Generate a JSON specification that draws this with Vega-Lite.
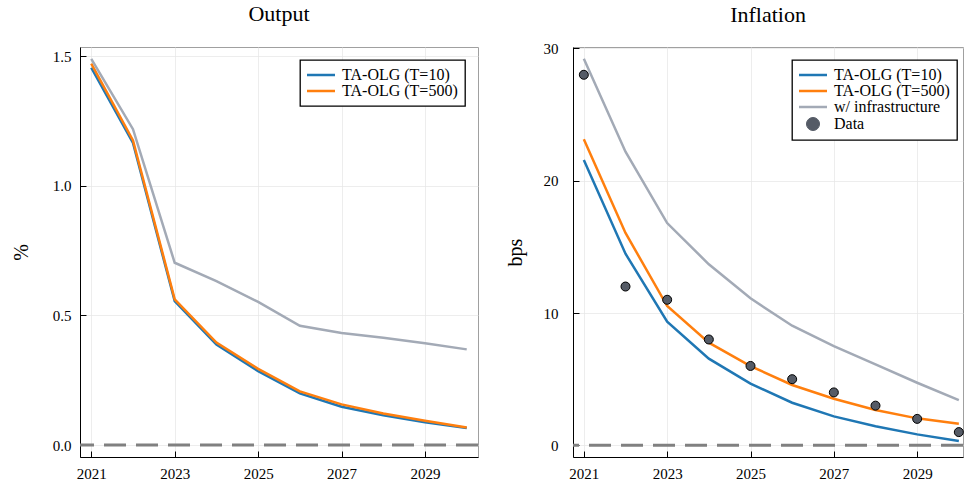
{
  "$schema": "https://vega.github.io/schema/vega-lite/v6.json",
  "padding": {"left": 10, "top": 2, "right": 0, "bottom": 5},
  "background": "white",
  "spacing": 24,
  "config": {
    "font": "Liberation Serif",
    "view": {"stroke": "#a0a0a0", "strokeWidth": 1},
    "axis": {
      "domainColor": "black", "domainWidth": 1, "tickColor": "black", "tickSize": -6,
      "labelPadding": 15, "labelFont": "Liberation Serif", "labelFontSize": 15, "labelColor": "black",
      "titleFont": "Liberation Serif", "titleFontSize": 20, "titleFontWeight": "normal", "titleColor": "black",
      "gridColor": "#e6e6e6", "gridOpacity": 0.7
    },
    "title": {"font": "Liberation Serif", "fontSize": 22, "fontWeight": "normal", "color": "black"},
    "legend": {
      "labelFont": "Liberation Serif", "labelFontSize": 16, "labelColor": "black",
      "strokeColor": "black", "strokeWidth": 1.3, "fillColor": "white", "padding": 7, "rowPadding": 0,
      "symbolSize": 100, "symbolStrokeWidth": 2.5, "symbolType": "stroke", "symbolOffset": 6, "labelOffset": 13
    }
  },
  "datasets": {
    "output": [
      {"year": 2021, "value": 1.455, "series": "TA-OLG (T=10)"},
      {"year": 2022, "value": 1.165, "series": "TA-OLG (T=10)"},
      {"year": 2023, "value": 0.555, "series": "TA-OLG (T=10)"},
      {"year": 2024, "value": 0.388, "series": "TA-OLG (T=10)"},
      {"year": 2025, "value": 0.285, "series": "TA-OLG (T=10)"},
      {"year": 2026, "value": 0.199, "series": "TA-OLG (T=10)"},
      {"year": 2027, "value": 0.148, "series": "TA-OLG (T=10)"},
      {"year": 2028, "value": 0.115, "series": "TA-OLG (T=10)"},
      {"year": 2029, "value": 0.088, "series": "TA-OLG (T=10)"},
      {"year": 2030, "value": 0.066, "series": "TA-OLG (T=10)"},
      {"year": 2021, "value": 1.471, "series": "TA-OLG (T=500)"},
      {"year": 2022, "value": 1.175, "series": "TA-OLG (T=500)"},
      {"year": 2023, "value": 0.562, "series": "TA-OLG (T=500)"},
      {"year": 2024, "value": 0.395, "series": "TA-OLG (T=500)"},
      {"year": 2025, "value": 0.294, "series": "TA-OLG (T=500)"},
      {"year": 2026, "value": 0.207, "series": "TA-OLG (T=500)"},
      {"year": 2027, "value": 0.157, "series": "TA-OLG (T=500)"},
      {"year": 2028, "value": 0.122, "series": "TA-OLG (T=500)"},
      {"year": 2029, "value": 0.094, "series": "TA-OLG (T=500)"},
      {"year": 2030, "value": 0.068, "series": "TA-OLG (T=500)"},
      {"year": 2021, "value": 1.489, "series": "w/ infrastructure"},
      {"year": 2022, "value": 1.218, "series": "w/ infrastructure"},
      {"year": 2023, "value": 0.703, "series": "w/ infrastructure"},
      {"year": 2024, "value": 0.632, "series": "w/ infrastructure"},
      {"year": 2025, "value": 0.552, "series": "w/ infrastructure"},
      {"year": 2026, "value": 0.46, "series": "w/ infrastructure"},
      {"year": 2027, "value": 0.432, "series": "w/ infrastructure"},
      {"year": 2028, "value": 0.414, "series": "w/ infrastructure"},
      {"year": 2029, "value": 0.393, "series": "w/ infrastructure"},
      {"year": 2030, "value": 0.369, "series": "w/ infrastructure"}
    ],
    "inflation": [
      {"year": 2021, "value": 21.56, "series": "TA-OLG (T=10)"},
      {"year": 2022, "value": 14.48, "series": "TA-OLG (T=10)"},
      {"year": 2023, "value": 9.34, "series": "TA-OLG (T=10)"},
      {"year": 2024, "value": 6.55, "series": "TA-OLG (T=10)"},
      {"year": 2025, "value": 4.66, "series": "TA-OLG (T=10)"},
      {"year": 2026, "value": 3.22, "series": "TA-OLG (T=10)"},
      {"year": 2027, "value": 2.19, "series": "TA-OLG (T=10)"},
      {"year": 2028, "value": 1.44, "series": "TA-OLG (T=10)"},
      {"year": 2029, "value": 0.83, "series": "TA-OLG (T=10)"},
      {"year": 2030, "value": 0.33, "series": "TA-OLG (T=10)"},
      {"year": 2021, "value": 23.13, "series": "TA-OLG (T=500)"},
      {"year": 2022, "value": 16.05, "series": "TA-OLG (T=500)"},
      {"year": 2023, "value": 10.53, "series": "TA-OLG (T=500)"},
      {"year": 2024, "value": 7.76, "series": "TA-OLG (T=500)"},
      {"year": 2025, "value": 5.99, "series": "TA-OLG (T=500)"},
      {"year": 2026, "value": 4.56, "series": "TA-OLG (T=500)"},
      {"year": 2027, "value": 3.52, "series": "TA-OLG (T=500)"},
      {"year": 2028, "value": 2.67, "series": "TA-OLG (T=500)"},
      {"year": 2029, "value": 2.04, "series": "TA-OLG (T=500)"},
      {"year": 2030, "value": 1.63, "series": "TA-OLG (T=500)"},
      {"year": 2021, "value": 29.22, "series": "w/ infrastructure"},
      {"year": 2022, "value": 22.19, "series": "w/ infrastructure"},
      {"year": 2023, "value": 16.8, "series": "w/ infrastructure"},
      {"year": 2024, "value": 13.68, "series": "w/ infrastructure"},
      {"year": 2025, "value": 11.11, "series": "w/ infrastructure"},
      {"year": 2026, "value": 9.04, "series": "w/ infrastructure"},
      {"year": 2027, "value": 7.5, "series": "w/ infrastructure"},
      {"year": 2028, "value": 6.12, "series": "w/ infrastructure"},
      {"year": 2029, "value": 4.73, "series": "w/ infrastructure"},
      {"year": 2030, "value": 3.42, "series": "w/ infrastructure"},
      {"year": 2021, "value": 28, "series": "Data"},
      {"year": 2022, "value": 12, "series": "Data"},
      {"year": 2023, "value": 11, "series": "Data"},
      {"year": 2024, "value": 8, "series": "Data"},
      {"year": 2025, "value": 6, "series": "Data"},
      {"year": 2026, "value": 5, "series": "Data"},
      {"year": 2027, "value": 4, "series": "Data"},
      {"year": 2028, "value": 3, "series": "Data"},
      {"year": 2029, "value": 2, "series": "Data"},
      {"year": 2030, "value": 1, "series": "Data"}
    ]
  },
  "hconcat": [
    {
      "title": {"text": "Output", "offset": 21},
      "width": 398,
      "height": 410,
      "layer": [
        {
          "data": {"values": [{"value": 0}]},
          "mark": {"type": "rule", "color": "#808080", "strokeWidth": 3, "strokeDash": [22, 10]},
          "encoding": {
            "y": {"field": "value", "type": "quantitative",
                  "scale": {"domain": [-0.046, 1.535], "nice": false, "zero": false},
                  "axis": {"values": [0, 0.5, 1, 1.5], "format": ".1f", "title": "%", "titlePadding": 21}}
          }
        },
        {
          "data": {"name": "output"},
          "mark": {"type": "line", "strokeWidth": 2.5},
          "encoding": {
            "x": {"field": "year", "type": "quantitative",
                  "scale": {"domain": [2020.73, 2030.27], "nice": false, "zero": false},
                  "axis": {"values": [2021, 2023, 2025, 2027, 2029], "format": "d", "title": null}},
            "y": {"field": "value", "type": "quantitative",
                  "scale": {"domain": [-0.046, 1.535], "nice": false, "zero": false},
                  "axis": {"values": [0, 0.5, 1, 1.5], "format": ".1f", "title": "%", "titlePadding": 21}},
            "color": {"field": "series", "type": "nominal",
                      "scale": {"domain": ["TA-OLG (T=10)", "TA-OLG (T=500)", "w/ infrastructure"],
                                "range": ["#1f77b4", "#ff7f0e", "#a3aab6"]},
                      "legend": {"title": null, "values": ["TA-OLG (T=10)", "TA-OLG (T=500)"],
                                 "orient": "none", "legendX": 220, "legendY": 13,
                                 "encode": {"symbols": {"update": {
                                   "shape": {"signal": "datum.label === 'Data' ? 'circle' : 'stroke'"},
                                   "size": {"signal": "datum.label === 'Data' ? 169 : 784"},
                                   "stroke": {"signal": "datum.label === 'TA-OLG (T=10)' ? '#1f77b4' : datum.label === 'TA-OLG (T=500)' ? '#ff7f0e' : '#a3aab6'"},
                                   "strokeWidth": {"signal": "datum.label === 'Data' ? 1 : 2.5"},
                                   "opacity": {"value": 1}
                                 }}}}}
          }
        }
      ]
    },
    {
      "title": {"text": "Inflation", "offset": 14},
      "width": 390,
      "height": 410,
      "layer": [
        {
          "data": {"values": [{"value": 0}]},
          "mark": {"type": "rule", "color": "#808080", "strokeWidth": 3, "strokeDash": [22, 10]},
          "encoding": {
            "y": {"field": "value", "type": "quantitative",
                  "scale": {"domain": [-0.88, 30.1], "nice": false, "zero": false},
                  "axis": {"values": [0, 10, 20, 30], "format": "d", "title": "bps", "titlePadding": 18, "labelPadding": 21}}
          }
        },
        {
          "data": {"name": "inflation"},
          "transform": [{"filter": "datum.series !== 'Data'"}],
          "mark": {"type": "line", "strokeWidth": 2.5},
          "encoding": {
            "x": {"field": "year", "type": "quantitative",
                  "scale": {"domain": [2020.74, 2030.1], "nice": false, "zero": false},
                  "axis": {"values": [2021, 2023, 2025, 2027, 2029], "format": "d", "title": null}},
            "y": {"field": "value", "type": "quantitative",
                  "scale": {"domain": [-0.88, 30.1], "nice": false, "zero": false},
                  "axis": {"values": [0, 10, 20, 30], "format": "d", "title": "bps", "titlePadding": 18, "labelPadding": 21}},
            "color": {"field": "series", "type": "nominal",
                      "scale": {"domain": ["TA-OLG (T=10)", "TA-OLG (T=500)", "w/ infrastructure", "Data"],
                                "range": ["#1f77b4", "#ff7f0e", "#a3aab6", "#555b66"]},
                      "legend": {"title": null, "orient": "none", "legendX": 219, "legendY": 13,
                                 "encode": {"symbols": {"update": {
                                   "shape": {"signal": "datum.label === 'Data' ? 'circle' : 'stroke'"},
                                   "size": {"signal": "datum.label === 'Data' ? 169 : 784"},
                                   "fill": {"signal": "datum.label === 'Data' ? '#555b66' : 'transparent'"},
                                   "stroke": {"signal": "datum.label === 'TA-OLG (T=10)' ? '#1f77b4' : datum.label === 'TA-OLG (T=500)' ? '#ff7f0e' : datum.label === 'w/ infrastructure' ? '#a3aab6' : '#000000'"},
                                   "strokeWidth": {"signal": "datum.label === 'Data' ? 1 : 2.5"},
                                   "opacity": {"value": 1}
                                 }}}}}
          }
        },
        {
          "data": {"name": "inflation"},
          "transform": [{"filter": "datum.series === 'Data'"}],
          "mark": {"type": "point", "shape": "circle", "filled": true, "size": 81, "stroke": "black", "strokeWidth": 1, "opacity": 1},
          "encoding": {
            "x": {"field": "year", "type": "quantitative"},
            "y": {"field": "value", "type": "quantitative"},
            "color": {"field": "series", "type": "nominal"}
          }
        }
      ]
    }
  ],
  "resolve": {"scale": {"color": "independent"}, "legend": {"color": "independent"}}
}
